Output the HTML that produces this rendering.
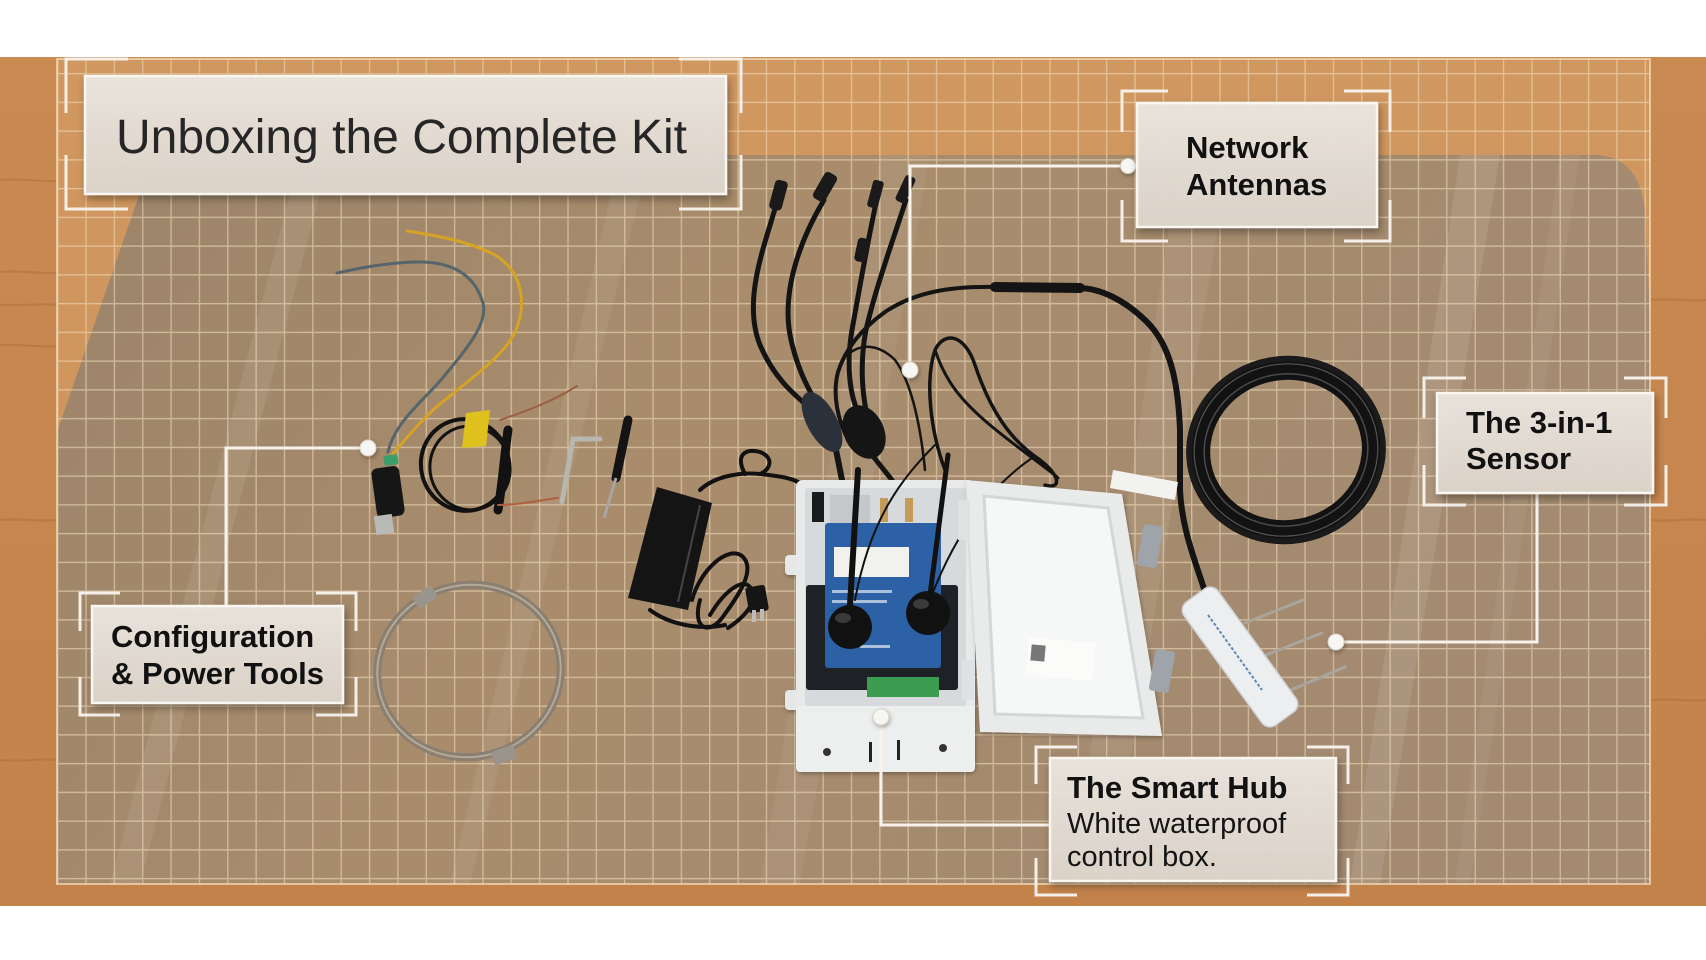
<!DOCTYPE html>
<html><head><meta charset="utf-8"><style>
html,body{margin:0;padding:0;background:#fff;}
svg{display:block}
text{font-family:"Liberation Sans",Arial,sans-serif}
</style></head><body>
<svg width="1706" height="960" viewBox="0 0 1706 960" xmlns="http://www.w3.org/2000/svg">
<defs>
 <linearGradient id="orange" x1="0" y1="0" x2="0" y2="1">
   <stop offset="0" stop-color="#c98a52"/><stop offset="1" stop-color="#c3824a"/>
 </linearGradient>
 <linearGradient id="board" x1="0" y1="0" x2="1" y2="0.3">
   <stop offset="0" stop-color="#9c8469"/>
   <stop offset="0.45" stop-color="#a88c6c"/>
   <stop offset="1" stop-color="#a38a70"/>
 </linearGradient>
 <pattern id="grid" patternUnits="userSpaceOnUse" x="57" y="44.2" width="28.35" height="28.75">
   <path d="M0,0.7 H28.35 M0.7,0 V28.75" stroke="#f3dfbd" stroke-opacity="0.58" stroke-width="1.3" fill="none"/>
 </pattern>
 <clipPath id="gridclip"><rect x="57" y="59" width="1593" height="825"/></clipPath>
 <clipPath id="boardclip"><path d="M153,155 L1598,155 Q1640,158 1645,212 L1652,360 L1652,884 L57,884 L57,432 Z"/></clipPath>
 <filter id="sh" x="-10%" y="-10%" width="130%" height="140%"><feDropShadow dx="2" dy="4" stdDeviation="4" flood-color="#000" flood-opacity="0.35"/></filter>
 <filter id="sh2" x="-20%" y="-20%" width="140%" height="140%"><feDropShadow dx="1" dy="2" stdDeviation="2" flood-color="#000" flood-opacity="0.3"/></filter>
 <linearGradient id="lbl" x1="0" y1="0" x2="0" y2="1"><stop offset="0" stop-color="#ebe6df"/><stop offset="1" stop-color="#ddd5cb"/></linearGradient>
</defs>

<!-- white background -->
<rect x="0" y="0" width="1706" height="960" fill="#fff"/>
<!-- outer orange wood -->
<rect x="0" y="57" width="1706" height="849" fill="url(#orange)"/>
<g stroke="#ad6a36" stroke-opacity="0.45" fill="none" stroke-width="2">
 <path d="M0,180 C20,178 40,182 57,181"/>
 <path d="M0,272 C25,270 40,274 57,273"/>
 <path d="M0,305 C20,306 40,303 57,305"/>
 <path d="M0,345 C25,344 40,348 57,346"/>
 <path d="M0,520 C25,518 40,522 57,520"/>
 <path d="M0,760 C25,762 40,758 57,760"/>
 <path d="M1650,300 C1670,298 1690,302 1706,300"/>
 <path d="M1650,520 C1670,522 1690,518 1706,520"/>
 <path d="M1650,700 C1670,698 1690,702 1706,700"/>
</g>

<!-- board -->
<g clip-path="url(#gridclip)">
 <rect x="57" y="59" width="1593" height="825" fill="#d6a36c" fill-opacity="0.55"/>
 <path d="M153,155 L1598,155 Q1640,158 1645,212 L1652,360 L1652,884 L57,884 L57,432 Z" fill="url(#board)"/>
 <g clip-path="url(#boardclip)" fill="#fff">
  <polygon points="300,155 330,155 140,884 110,884" opacity="0.08"/>
  <polygon points="620,155 650,155 470,884 450,884" opacity="0.07"/>
  <polygon points="880,155 930,155 800,884 760,884" opacity="0.06"/>
  <polygon points="1180,155 1230,155 1110,884 1070,884" opacity="0.07"/>
  <polygon points="1460,155 1500,155 1380,884 1350,884" opacity="0.1"/>
  <polygon points="1560,155 1580,155 1470,884 1455,884" opacity="0.06"/>
 </g>
 <rect x="57" y="59" width="1593" height="825" fill="url(#grid)"/>
</g>
<rect x="57" y="59" width="1593" height="825" fill="none" stroke="#f3dfbd" stroke-opacity="0.7" stroke-width="2"/>

<!-- hose clamp -->
<ellipse cx="469" cy="671" rx="92" ry="86" fill="none" stroke="#8a7f70" stroke-width="8" transform="rotate(-12 469 671)"/>
<ellipse cx="469" cy="671" rx="92" ry="86" fill="none" stroke="#b3aa9a" stroke-width="2" transform="rotate(-12 469 671)"/>
<rect x="414" y="590" width="22" height="14" rx="3" fill="#9a958c" transform="rotate(-35 425 597)"/>
<rect x="492" y="748" width="24" height="14" rx="3" fill="#9a958c" transform="rotate(-20 504 755)"/>

<!-- left wires -->
<g fill="none" stroke-linecap="round">
 <path d="M388,452 C395,420 430,395 445,375 C470,345 490,320 482,300 C472,270 445,262 420,262 C390,262 360,268 337,273" stroke="#56656c" stroke-width="3"/>
 <path d="M392,455 C405,440 425,415 445,400 C475,375 505,355 516,330 C528,300 520,270 495,255 C470,242 440,236 407,231" stroke="#d6a324" stroke-width="3"/>
</g>
<!-- USB converter -->
<rect x="384" y="455" width="14" height="10" rx="2" fill="#3aa06a" transform="rotate(-8 391 460)"/>
<rect x="374" y="467" width="28" height="50" rx="6" fill="#161616" transform="rotate(-8 388 492)"/>
<rect x="375" y="515" width="18" height="19" fill="#b9b9b6" transform="rotate(-8 384 524)"/>
<!-- black cable loop with yellow tag -->
<g fill="none" stroke="#121212" stroke-linecap="round">
 <ellipse cx="465" cy="465" rx="44" ry="46" stroke-width="4" transform="rotate(-15 465 465)"/>
 <ellipse cx="470" cy="468" rx="40" ry="42" stroke-width="3" transform="rotate(-15 470 468)"/>
 <path d="M508,430 C505,450 503,480 498,510" stroke-width="9"/>
 <path d="M500,420 C530,410 555,400 577,386" stroke="#9b6040" stroke-width="2"/>
 <path d="M498,505 C520,505 540,500 558,498" stroke="#b0603f" stroke-width="2"/>
</g>
<polygon points="466,413 490,410 486,446 462,448" fill="#e0c21e"/>
<!-- allen key -->
<path d="M600,439 L573,439 L562,502" fill="none" stroke="#b8b6b0" stroke-width="5" stroke-linecap="round"/>
<!-- screwdriver -->
<path d="M628,420 L616,478" stroke="#141414" stroke-width="9" stroke-linecap="round"/>
<path d="M616,478 L604,518" stroke="#a8a6a0" stroke-width="3"/>

<!-- antenna cables -->
<g stroke="#141414" fill="none" stroke-linecap="round">
 <path d="M776,205 C765,245 742,300 760,345 C775,380 795,395 812,410" stroke-width="5"/>
 <path d="M824,200 C800,240 782,290 790,335 C796,365 806,385 816,402" stroke-width="5"/>
 <path d="M876,203 C868,240 860,285 852,330 C846,365 850,395 858,412" stroke-width="5"/>
 <path d="M906,200 C893,240 875,290 866,330 C860,360 862,390 866,410" stroke-width="5"/>
 <path d="M836,450 L842,480" stroke-width="6"/>
 <path d="M872,455 L892,480" stroke-width="5"/>
 <path d="M997,287 C950,286 915,292 885,312 C860,330 845,350 838,372 C832,395 838,420 848,440" stroke-width="4"/>
 <path d="M1205,592 C1195,560 1182,530 1180,490 L1180,430 C1178,380 1170,345 1147,322 C1125,300 1100,288 1078,288" stroke-width="6"/>
 <path d="M995,287 L1080,288" stroke-width="10"/>
 <path d="M945,470 C930,430 925,380 935,350 C945,330 965,335 975,365 C990,410 1010,440 1040,460 C1060,475 1062,490 1045,485" stroke-width="3.5"/>
 <path d="M935,350 C945,380 960,400 990,425 C1020,450 1050,470 1058,478" stroke-width="3"/>
 <path d="M842,360 C860,340 880,345 895,360 C910,380 920,420 925,470" stroke-width="2.5"/>
</g>
<g fill="#1a1a1a">
 <rect x="772" y="180" width="13" height="30" rx="4" transform="rotate(15 778 195)"/>
 <rect x="818" y="172" width="14" height="30" rx="4" transform="rotate(30 825 187)"/>
 <rect x="870" y="180" width="11" height="28" rx="3" transform="rotate(15 875 194)"/>
 <rect x="900" y="175" width="11" height="28" rx="3" transform="rotate(25 905 189)"/>
 <rect x="856" y="238" width="12" height="24" rx="4" transform="rotate(12 862 250)"/>
</g>
<ellipse cx="822" cy="422" rx="15" ry="33" fill="#2b313a" transform="rotate(-28 822 422)"/>
<ellipse cx="864" cy="432" rx="20" ry="28" fill="#151515" transform="rotate(-25 864 432)"/>

<!-- coil -->
<g fill="none">
 <ellipse cx="1286" cy="450" rx="88" ry="82" stroke="#121212" stroke-width="24" transform="rotate(-10 1286 450)"/>
 <ellipse cx="1286" cy="450" rx="97" ry="91" stroke="#1b1b1b" stroke-width="5" transform="rotate(-10 1286 450)"/>
 <ellipse cx="1286" cy="450" rx="82" ry="76" stroke="#4a4a4a" stroke-width="1.5" transform="rotate(-10 1286 450)"/>
 <ellipse cx="1286" cy="450" rx="92" ry="86" stroke="#555" stroke-width="1.2" transform="rotate(-10 1286 450)"/>
</g>
<polygon points="1113,470 1178,482 1175,500 1110,488" fill="#f2f2ee"/>

<!-- sensor -->
<g stroke="#a9a59c" stroke-width="3" stroke-linecap="round">
 <line x1="1245" y1="623" x2="1303" y2="600"/>
 <line x1="1266" y1="655" x2="1322" y2="633"/>
 <line x1="1286" y1="692" x2="1345" y2="667"/>
</g>
<rect x="1164" y="636" width="152" height="42" rx="10" fill="#eceef0" stroke="#d0d3d6" stroke-width="1.5" transform="rotate(54 1240 657)"/>
<line x1="1208" y1="615" x2="1262" y2="690" stroke="#5d87b8" stroke-width="2" stroke-dasharray="3 2"/>

<!-- power adapter -->
<polygon points="657,487 712,503 688,610 628,598" fill="#141414"/>
<line x1="700" y1="505" x2="678" y2="602" stroke="#444" stroke-width="2"/>
<g fill="none" stroke="#111" stroke-width="4" stroke-linecap="round">
 <path d="M700,490 C715,476 740,472 760,474 C780,476 792,478 802,484"/>
 <path d="M745,474 C735,455 745,448 760,452 C775,458 770,470 760,474"/>
 <path d="M692,600 C700,570 728,545 742,556 C758,570 735,600 722,618 C708,636 692,628 700,600"/>
 <path d="M710,615 C725,590 745,575 752,590 C758,605 740,620 728,628"/>
 <path d="M650,610 C670,625 700,630 725,625"/>
</g>
<rect x="747" y="586" width="20" height="26" rx="3" fill="#151515" transform="rotate(-10 757 599)"/>
<rect x="752" y="610" width="4" height="12" fill="#bbb"/><rect x="760" y="609" width="4" height="12" fill="#bbb"/>

<!-- hub base box -->
<g filter="url(#sh2)">
 <rect x="785" y="555" width="16" height="20" rx="4" fill="#e6e8e8"/>
 <rect x="785" y="690" width="16" height="20" rx="4" fill="#e6e8e8"/>
 <rect x="796" y="480" width="179" height="292" rx="7" fill="#e8eaea"/>
</g>
<rect x="805" y="488" width="161" height="218" rx="3" fill="#d6dadc"/>
<rect x="796" y="706" width="179" height="66" rx="4" fill="#edefef"/>
<circle cx="827" cy="752" r="4" fill="#333"/><circle cx="943" cy="748" r="4" fill="#333"/>
<rect x="869" y="742" width="3" height="20" fill="#222"/><rect x="897" y="740" width="3" height="20" fill="#222"/>
<rect x="806" y="585" width="152" height="105" rx="3" fill="#1e2226"/>
<rect x="812" y="492" width="12" height="30" fill="#1b1b1b"/>
<rect x="830" y="495" width="40" height="28" fill="#c4c8ca"/>
<rect x="880" y="498" width="8" height="24" fill="#c59b5a"/><rect x="905" y="498" width="8" height="24" fill="#c59b5a"/>
<rect x="825" y="523" width="116" height="145" rx="3" fill="#2c61a6"/>
<rect x="834" y="547" width="75" height="30" fill="#f1f1ee"/>
<rect x="867" y="677" width="72" height="20" fill="#3c9c52"/>
<g fill="#fff" opacity="0.6"><rect x="832" y="590" width="60" height="3"/><rect x="832" y="600" width="55" height="3"/><rect x="860" y="645" width="30" height="3"/></g>
<g stroke="#111" stroke-linecap="round" fill="none">
 <path d="M850,605 L858,470" stroke-width="6"/>
 <path d="M930,595 L948,455" stroke-width="5"/>
 <path d="M855,600 C870,520 900,480 935,445" stroke-width="2"/>
 <path d="M930,600 C960,520 1000,480 1032,458" stroke-width="2"/>
</g>
<circle cx="850" cy="627" r="22" fill="#111"/>
<circle cx="928" cy="613" r="22" fill="#111"/>
<ellipse cx="843" cy="618" rx="8" ry="5" fill="#3a3a3a"/>
<ellipse cx="921" cy="604" rx="8" ry="5" fill="#3a3a3a"/>

<!-- lid -->
<g filter="url(#sh2)">
 <polygon points="966,480 1122,494 1162,736 980,732" fill="#e9ebeb"/>
</g>
<polygon points="984,496 1108,508 1143,718 995,714" fill="#f6f7f7" stroke="#d3d7da" stroke-width="3"/>
<rect x="1140" y="525" width="20" height="42" rx="3" fill="#9ea4aa" transform="rotate(10 1150 546)"/>
<rect x="1152" y="650" width="20" height="42" rx="3" fill="#9ea4aa" transform="rotate(10 1162 671)"/>
<rect x="958" y="500" width="12" height="40" fill="#dfe2e3"/>
<rect x="962" y="660" width="12" height="40" fill="#dfe2e3"/>
<rect x="1027" y="640" width="67" height="38" fill="#fbfbf9" transform="rotate(5 1060 659)"/>
<rect x="1031" y="645" width="14" height="16" fill="#777" transform="rotate(5 1038 653)"/>

<!-- connectors -->
<g fill="none" stroke="#f7f3ec" stroke-width="3">
 <polyline points="1128,166 910,166 910,370"/>
 <polyline points="226,606 226,448 368,448"/>
 <polyline points="1050,825 881,825 881,717"/>
 <polyline points="1537,493 1537,642 1336,642"/>
</g>
<g fill="#f8f6f2" stroke="#d8d2c8" stroke-width="1" filter="url(#sh2)">
 <circle cx="1128" cy="166" r="7.5"/>
 <circle cx="910" cy="370" r="8"/>
 <circle cx="368" cy="448" r="8"/>
 <circle cx="881" cy="717" r="8"/>
 <circle cx="1336" cy="642" r="8"/>
</g>

<!-- brackets -->
<g fill="none" stroke="#f4efe8" stroke-width="3">
 <path d="M66,113 V59 H128 M679,59 H741 V113 M66,155 V209 H128 M679,209 H741 V155"/>
 <path d="M1122,132 V91 H1168 M1344,91 H1390 V132 M1122,200 V241 H1168 M1344,241 H1390 V200"/>
 <path d="M1424,418 V378 H1466 M1624,378 H1666 V418 M1424,465 V505 H1466 M1624,505 H1666 V465"/>
 <path d="M80,631 V593 H120 M316,593 H356 V631 M80,677 V715 H120 M316,715 H356 V677"/>
 <path d="M1036,784 V747 H1077 M1307,747 H1348 V784 M1036,858 V895 H1077 M1307,895 H1348 V858"/>
</g>

<!-- label boxes -->
<g filter="url(#sh)" stroke="#faf7f2" stroke-width="2.5" fill="url(#lbl)" fill-opacity="0.96">
 <rect x="85" y="76" width="641" height="118"/>
 <rect x="1137" y="103" width="240" height="124"/>
 <rect x="1437" y="393" width="216" height="100"/>
 <rect x="92" y="606" width="251" height="97"/>
 <rect x="1050" y="758" width="286" height="123"/>
</g>

<!-- texts -->
<text x="116" y="153" font-size="48" fill="#262626">Unboxing the Complete Kit</text>
<g font-weight="bold" font-size="31" fill="#111">
 <text x="1186" y="158">Network</text>
 <text x="1186" y="195">Antennas</text>
 <text x="1466" y="433">The 3-in-1</text>
 <text x="1466" y="469">Sensor</text>
 <text x="111" y="647">Configuration</text>
 <text x="111" y="684">&amp; Power Tools</text>
 <text x="1067" y="798">The Smart Hub</text>
</g>
<g font-size="29" fill="#141414">
 <text x="1067" y="833">White waterproof</text>
 <text x="1067" y="866">control box.</text>
</g>
</svg>
</body></html>
